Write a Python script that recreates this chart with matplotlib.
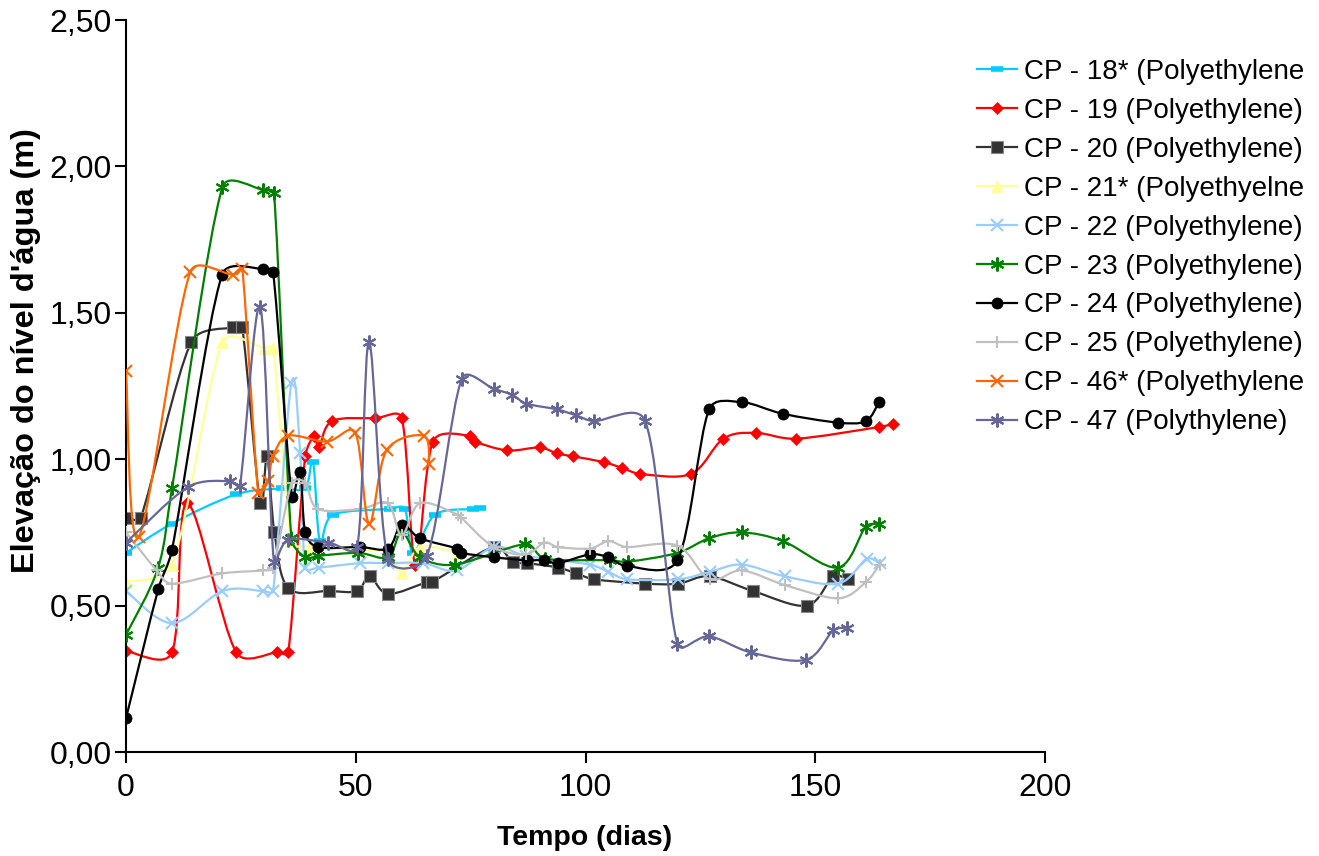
import matplotlib
matplotlib.use("Agg")
import math
import matplotlib.pyplot as plt
from matplotlib.ticker import FuncFormatter, MultipleLocator
from matplotlib.path import Path
from matplotlib.patches import PathPatch
from matplotlib.lines import Line2D

plt.rcParams['font.family'] = ['Liberation Sans', 'DejaVu Sans']

# ---- data (days, water level m) ----
cp18_x = [0, 10, 24, 34, 39, 40.7, 42.2, 45, 57.5, 60.7, 62.5, 67.2, 75.5, 77]
cp18_y = [0.68, 0.78, 0.88, 0.90, 0.90, 0.99, 0.72, 0.81, 0.83, 0.83, 0.68, 0.81, 0.83, 0.835]

cp19_x = [0, 10, 13.3, 24, 32.8, 35.3, 39, 41, 42, 44.8, 54.2, 60, 63, 66.8, 74.9, 76, 83, 90,
          93.8, 97.2, 104, 108, 111.9, 123, 130, 137, 145.8, 163.9, 167]
cp19_y = [0.345, 0.34, 0.85, 0.34, 0.34, 0.34, 1.01, 1.08, 1.04, 1.13, 1.14, 1.14, 0.64, 1.06, 1.08,
          1.06, 1.03, 1.04, 1.02, 1.01, 0.99, 0.97, 0.95, 0.95, 1.07, 1.09, 1.07, 1.11, 1.12]

cp20_x = [0, 3.2, 14.2, 23.3, 25.3, 29.2, 30.7, 32.3, 35.3, 44.2, 50.3, 53, 57, 65.5, 66.6, 80,
          84.2, 87.3, 94, 98, 101.8, 113, 120.2, 127, 136.4, 148.2, 153.9, 157.1]
cp20_y = [0.80, 0.80, 1.40, 1.45, 1.45, 0.85, 1.01, 0.75, 0.56, 0.55, 0.55, 0.60, 0.54, 0.58, 0.58,
          0.70, 0.65, 0.645, 0.63, 0.61, 0.59, 0.575, 0.575, 0.60, 0.55, 0.50, 0.60, 0.59]

cp21_x = [0, 10, 21, 30, 32, 36, 40, 50, 57, 60, 64, 72]
cp21_y = [0.58, 0.64, 1.40, 1.38, 1.38, 0.72, 0.70, 0.69, 0.68, 0.61, 0.70, 0.68]

cp22_x = [0, 10, 21, 29.8, 32, 36, 37.9, 39, 42, 51, 57, 64.6, 72, 80, 87, 101, 105, 109, 120.2,
          127, 134, 143.4, 155, 161.2, 164]
cp22_y = [0.55, 0.44, 0.55, 0.55, 0.55, 1.26, 1.02, 0.63, 0.63, 0.645, 0.645, 0.645, 0.62, 0.70,
          0.67, 0.64, 0.615, 0.59, 0.59, 0.615, 0.64, 0.60, 0.575, 0.66, 0.645]

cp23_x = [0, 7, 10, 21, 29.8, 32.2, 36, 39, 41.8, 50.5, 57, 60, 64, 71.6, 86.9, 91.2, 105.3, 109.2,
          120, 126.9, 134, 143, 155, 161, 163.9]
cp23_y = [0.40, 0.63, 0.90, 1.93, 1.92, 1.91, 0.73, 0.665, 0.67, 0.68, 0.665, 0.75, 0.665, 0.64,
          0.71, 0.66, 0.655, 0.65, 0.68, 0.73, 0.75, 0.72, 0.63, 0.77, 0.78]

cp24_x = [0, 7, 10, 20.9, 29.8, 32, 36.1, 37.9, 39, 41.8, 51, 57, 60, 64, 72, 73, 80, 87.2, 91, 94,
          101, 105, 109, 120, 126.9, 134, 143, 155, 161, 163.9]
cp24_y = [0.115, 0.555, 0.69, 1.63, 1.65, 1.64, 0.87, 0.955, 0.75, 0.70, 0.70, 0.695, 0.775, 0.73,
          0.695, 0.68, 0.665, 0.655, 0.655, 0.645, 0.675, 0.665, 0.635, 0.655, 1.17, 1.195, 1.155,
          1.125, 1.13, 1.195]

cp25_x = [0, 6.7, 10, 21, 29.8, 32, 36.1, 39, 41.8, 51, 57, 60, 64, 72.3, 73, 80, 87, 91, 94, 101,
          105, 109, 120, 127, 134, 143.4, 155, 161, 164]
cp25_y = [0.75, 0.62, 0.575, 0.61, 0.62, 0.63, 0.92, 0.92, 0.83, 0.83, 0.85, 0.74, 0.85, 0.81, 0.80,
          0.70, 0.675, 0.715, 0.70, 0.695, 0.72, 0.70, 0.705, 0.59, 0.62, 0.57, 0.525, 0.58, 0.64]

cp46_x = [0, 2.8, 14, 23.3, 25.3, 28.8, 30.9, 32, 35.3, 43.7, 49.9, 52.9, 56.7, 64.8, 66]
cp46_y = [1.30, 0.735, 1.64, 1.63, 1.65, 0.885, 0.925, 1.01, 1.08, 1.06, 1.09, 0.78, 1.03, 1.08, 0.985]

cp47_x = [0, 13.5, 22.6, 24.8, 29.2, 32.2, 35.3, 44, 50.3, 52.9, 57, 65.5, 73.1, 80.1, 84, 87.1,
          93.8, 97.9, 101.8, 113, 120, 126.9, 136, 148, 153.9, 157]
cp47_y = [0.715, 0.905, 0.925, 0.91, 1.52, 0.65, 0.725, 0.715, 0.70, 1.40, 0.66, 0.67, 1.275, 1.24,
          1.22, 1.19, 1.17, 1.15, 1.13, 1.13, 0.37, 0.395, 0.34, 0.315, 0.415, 0.425]

labels = ["CP - 18* (Polyethylene", "CP - 19 (Polyethylene)", "CP - 20 (Polyethylene)",
          "CP - 21* (Polyethyelne", "CP - 22 (Polyethylene)", "CP - 23 (Polyethylene)",
          "CP - 24 (Polyethylene)", "CP - 25 (Polyethylene)", "CP - 46* (Polyethylene",
          "CP - 47 (Polythylene)"]

series = [(cp18_x, cp18_y), (cp19_x, cp19_y), (cp20_x, cp20_y), (cp21_x, cp21_y), (cp22_x, cp22_y),
          (cp23_x, cp23_y), (cp24_x, cp24_y), (cp25_x, cp25_y), (cp46_x, cp46_y), (cp47_x, cp47_y)]

styles = [
    dict(color='#00CCFF', marker='_', ms=9, mew=4),
    dict(color='#FF0000', marker='D', ms=6, mew=0.5),
    dict(color='#333333', marker='s', ms=8, mec='#888888', mew=0.8),
    dict(color='#FFFF99', marker='^', ms=8, mew=0.5),
    dict(color='#99CCFF', marker='x', ms=8, mew=1.5),
    dict(color='#008000', marker=(6, 2, 0), ms=10, mew=1.5),
    dict(color='#000000', marker='o', ms=8, mew=0.5),
    dict(color='#C0C0C0', marker='+', ms=9, mew=1.5),
    dict(color='#FF6600', marker='x', ms=8, mew=1.5),
    dict(color='#666699', marker=(6, 2, 0), ms=10, mew=1.5),
]

XMAX, YMAX = 200, 2.5
fig = plt.figure(figsize=(13.19, 8.56), dpi=100)
ax = fig.add_axes([126/1319, 1-752/856, (1045-126)/1319, (752-20)/856])

# screen scale (pixels per data unit) so smoothing is computed in display space
bbox = ax.get_position()
SX = bbox.width * fig.get_figwidth() * fig.dpi / XMAX
SY = bbox.height * fig.get_figheight() * fig.dpi / YMAX


def smooth_path(xs, ys, k=0.4):
    """Smoothed line (Excel-like): Catmull-Rom style cubic Bezier through the data points,
    with control handles limited to a fraction of the segment length."""
    pts = [(x * SX, y * SY) for x, y in zip(xs, ys)]
    n = len(pts)
    tang = []
    for i in range(n):
        a = pts[i - 1] if i > 0 else pts[i]
        b = pts[i + 1] if i < n - 1 else pts[i]
        tang.append(((b[0] - a[0]) / 6.0, (b[1] - a[1]) / 6.0))

    def clamp(v, lim):
        m = math.hypot(v[0], v[1])
        if m > lim and m > 0:
            return v[0] * lim / m, v[1] * lim / m
        return v

    verts = [pts[0]]
    codes = [Path.MOVETO]
    for i in range(n - 1):
        p1, p2 = pts[i], pts[i + 1]
        L = math.hypot(p2[0] - p1[0], p2[1] - p1[1])
        t1 = clamp(tang[i], k * L)
        t2 = clamp(tang[i + 1], k * L)
        c1 = (p1[0] + t1[0], p1[1] + t1[1])
        c2 = (p2[0] - t2[0], p2[1] - t2[1])
        verts += [c1, c2, p2]
        codes += [Path.CURVE4] * 3
    verts = [(vx / SX, vy / SY) for vx, vy in verts]
    return Path(verts, codes)


handles = []
for i, ((xs, ys), st, lab) in enumerate(zip(series, styles, labels)):
    z = 2 + i * 0.1
    ax.add_patch(PathPatch(smooth_path(xs, ys), facecolor='none', edgecolor=st['color'],
                           lw=1.6, zorder=z))
    ax.plot(xs, ys, linestyle='none', zorder=z + 0.05, **st)
    handles.append(Line2D([], [], lw=1.6, **st))

ax.set_xlim(0, XMAX)
ax.set_ylim(0, YMAX)
ax.xaxis.set_major_locator(MultipleLocator(50))
ax.yaxis.set_major_locator(MultipleLocator(0.5))
ax.yaxis.set_major_formatter(FuncFormatter(lambda v, p: f"{v:.2f}".replace('.', ',')))
ax.spines['top'].set_visible(False)
ax.spines['right'].set_visible(False)
ax.spines['left'].set_linewidth(1.5)
ax.spines['bottom'].set_linewidth(1.5)
ax.tick_params(direction='out', length=8, width=1.5, labelsize=23)
ax.tick_params(axis='y', pad=2)
ax.tick_params(axis='x', pad=7)
ax.set_xlabel("Tempo (dias)", fontsize=20.5, fontweight='bold')
ax.set_ylabel("Elevação do nível d'água (m)", fontsize=23.4, fontweight='bold')
ax.xaxis.set_label_coords(0.4995, -0.100)
ax.yaxis.set_label_coords(-0.0925, 0.549)

fig.legend(handles, labels, loc='upper left', bbox_to_anchor=(977/1319, 1-59/856), frameon=False,
           fontsize=20, handlelength=1.45, handletextpad=0.25, labelspacing=0.465,
           borderpad=0, borderaxespad=0)

fig.savefig("out.png", dpi=100)
